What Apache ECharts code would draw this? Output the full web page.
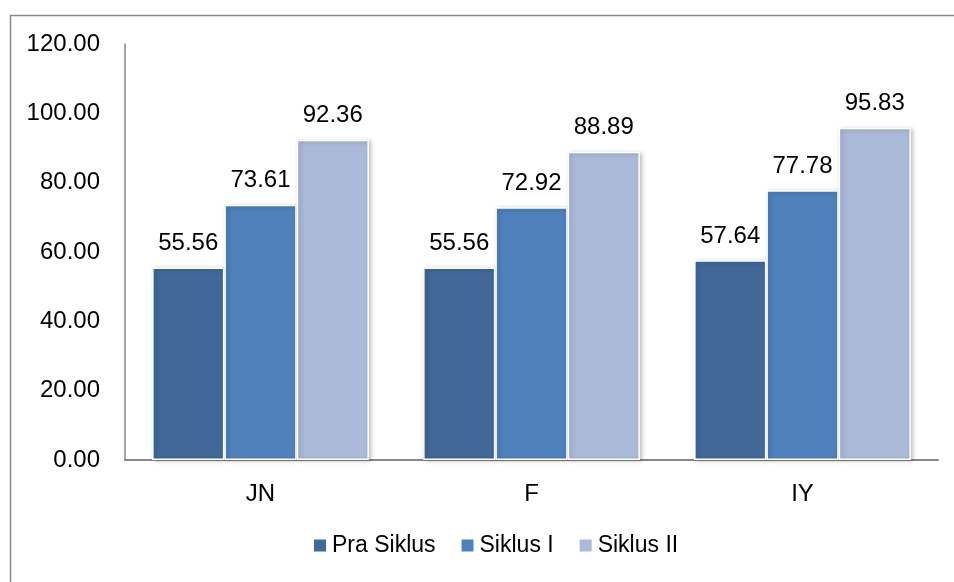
<!DOCTYPE html>
<html>
<head>
<meta charset="utf-8">
<script src="https://cdn.jsdelivr.net/npm/echarts@6/dist/echarts.min.js"></script>
<style>html,body{margin:0;padding:0;background:#fff}#c{width:954px;height:582px}</style>
</head>
<body>
<div id="c"></div>
<script>
const categories = ['JN', 'F', 'IY'];
const seriesNames = ['Pra Siklus', 'Siklus I', 'Siklus II'];
const praSiklus = [55.56, 55.56, 57.64];
const siklusI = [73.61, 72.92, 77.78];
const siklusII = [92.36, 88.89, 95.83];
const colors = ['#416898', '#4f81bd', '#aabad8'];

const FONT = 'Liberation Sans';
const chart = echarts.init(document.getElementById('c'), null, {renderer: 'canvas'});
function mk(name, data, color) {
  return {
    name: name, type: 'bar', data: data,
    barGap: '0%', barCategoryGap: '20%',
    itemStyle: {color: color, borderColor: '#fff', borderWidth: 1.5,
      shadowColor: 'rgba(0,0,0,0.25)', shadowBlur: 4, shadowOffsetX: 2, shadowOffsetY: 1},
    label: {show: true, position: 'top', distance: 12, color: '#000',
      fontFamily: FONT, fontSize: 24, formatter: p => p.value.toFixed(2)}
  };
}
chart.setOption({
  animation: false,
  color: colors,
  graphic: [{type: 'rect', left: 8, top: 13, shape: {width: 1000, height: 1000},
    style: {fill: 'none', stroke: '#888', lineWidth: 1.5}, z: -1}],
  grid: {left: 125, right: 16, top: 44, bottom: 122, containLabel: false},
  legend: {bottom: 20, left: 307, itemWidth: 14, itemHeight: 14, itemGap: 24,
    icon: 'rect', textStyle: {fontFamily: FONT, fontSize: 23, color: '#000'},
    data: seriesNames},
  xAxis: {type: 'category', data: categories,
    axisLine: {lineStyle: {color: '#888', width: 2}},
    axisTick: {show: false},
    axisLabel: {color: '#000', fontFamily: FONT, fontSize: 24, margin: 22}},
  yAxis: {type: 'value', min: 0, max: 120, interval: 20,
    axisLine: {show: true, lineStyle: {color: '#888', width: 1.5}},
    axisTick: {show: false}, splitLine: {show: false},
    axisLabel: {color: '#000', fontFamily: FONT, fontSize: 24, margin: 25,
      formatter: v => v.toFixed(2)}},
  series: [mk(seriesNames[0], praSiklus, colors[0]), mk(seriesNames[1], siklusI, colors[1]), mk(seriesNames[2], siklusII, colors[2])]
});
</script>
</body>
</html>
